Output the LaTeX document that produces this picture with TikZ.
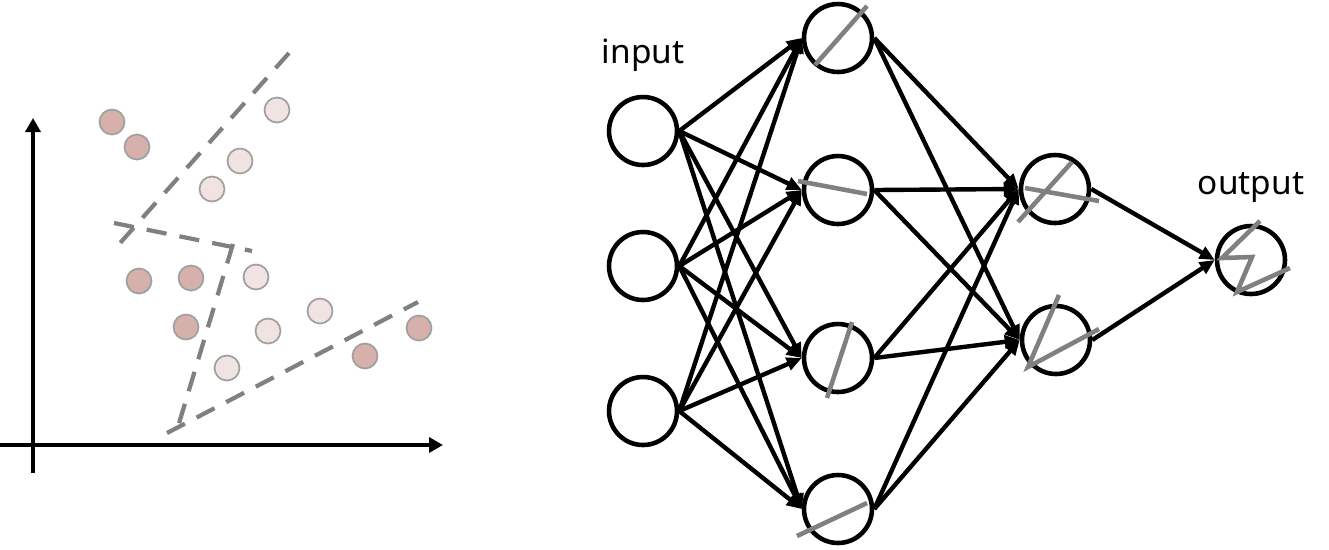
\documentclass[tikz,border=0pt]{standalone}
\usepackage{fontspec}
\setmainfont{Noto Sans}
\usetikzlibrary{positioning,arrows.meta}
\definecolor{dotdark}{RGB}{214,176,170}
\definecolor{dotlight}{RGB}{241,227,226}
\definecolor{dotrim}{RGB}{160,160,160}
\definecolor{cutgray}{RGB}{128,128,128}

\begin{document}
\begin{tikzpicture}[
  x=0.02cm, y=-0.02cm,
  every node/.style={font=\fontsize{19}{22}\selectfont},
  axis/.style={line width=2.6pt,-{Triangle[length=0.28cm,width=0.3cm]}},
  cut/.style={cutgray,line width=2.4pt,dash pattern=on 11.5pt off 7.5pt},
  dark/.style={circle,draw=dotrim,line width=1pt,fill=dotdark,minimum size=0.5cm,inner sep=0pt},
  light/.style={dark,fill=dotlight},
  neuron/.style={circle,draw=black,line width=2.6pt,minimum size=1.36cm,inner sep=0pt},
  link/.style={line width=2.5pt,-{Triangle[length=0.3cm,width=0.26cm]}},
  act/.style={cutgray,line width=2.6pt}
]
\useasboundingbox (0,0) rectangle (1329,549);

% left: samples split by dashed cuts
\begin{scope}
  % axes
  \draw[axis] (33,473) -- (33,118);
  \draw[axis] (0,445) -- (443,445);

  % dashed cuts
  \draw[cut] (289,53) -- (113,251);
  \draw[cut] (114,223) -- (252,251);
  \draw[cut] (233,244) -- (177,430);
  \draw[cut] (167,433) -- (418,302);

  % samples
  \node[dark] (d1) at (112,122) {};
  \node[dark] (d2) at (137,147) {};
  \node[dark] (d3) at (139,281) {};
  \node[dark] (d4) at (191,278) {};
  \node[dark] (d5) at (186,327) {};
  \node[dark] (d6) at (365,356) {};
  \node[dark] (d7) at (419,328) {};
  \node[light] (l1) at (277,110) {};
  \node[light] (l2) at (240,161) {};
  \node[light] (l3) at (212,189) {};
  \node[light] (l4) at (256,277) {};
  \node[light] (l5) at (320,311) {};
  \node[light] (l6) at (268,331) {};
  \node[light] (l7) at (227,368) {};
\end{scope}

% right: network
\begin{scope}
  \node at (643,55) {input};
  \node at (1251,187) {output};

  % layers
  \node[neuron] (i1) at (643,131) {};
  \node[neuron] (i2) at (643,266) {};
  \node[neuron] (i3) at (643,411) {};
  \node[neuron] (h1) at (838,38) {};
  \node[neuron] (h2) at (838,190) {};
  \node[neuron] (h3) at (838,358) {};
  \node[neuron] (h4) at (838,509) {};
  \node[neuron] (g1) at (1055,189) {};
  \node[neuron] (g2) at (1056,340) {};
  \node[neuron] (o) at (1251,260) {};

  % connections
  \foreach \a in {i1,i2,i3}
    \foreach \b in {h1,h2,h3,h4}
      \draw[link] (\a.east) -- (\b.west);
  \foreach \a in {h1,h2,h3,h4}
    \foreach \b in {g1,g2}
      \draw[link] (\a.east) -- (\b.west);
  \foreach \a in {g1,g2}
    \draw[link] (\a.east) -- (o.west);

  % cuts drawn by each unit
  \draw[act] (815,65) -- (867,6);
  \draw[act] (798,181) -- (867,194);
  \draw[act] (852,322) -- (827,398);
  \draw[act] (797,536) -- (867,503);
  \draw[act] (1018,222) -- (1072,162);
  \draw[act] (1025,188) -- (1099,201);
  \draw[act] (1059,295) -- (1028,367) -- (1099,329);
  \draw[act] (1260,221) -- (1222,258) -- (1252,257) -- (1237,292) -- (1290,268);
\end{scope}

\end{tikzpicture}
\end{document}
